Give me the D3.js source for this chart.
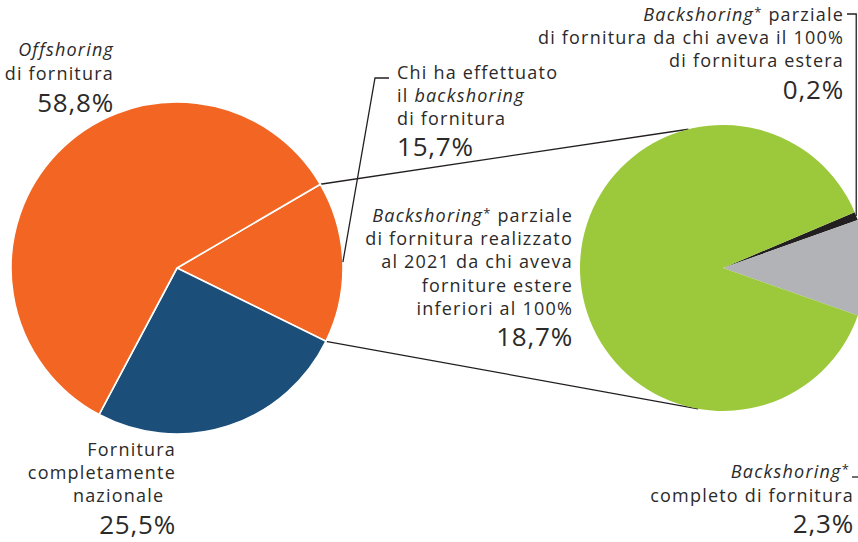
<!DOCTYPE html>
<html>
<head>
<meta charset="utf-8">
<title>Backshoring</title>
<script src="https://cdn.jsdelivr.net/npm/d3@7"></script>
<style>
  body { margin: 0; background: #fff; }
  svg { display: block; }
  text { font-family: "Open Sans", sans-serif; fill: #2b2a29; font-size: 18px; letter-spacing: 1.2px; }
  .pct { font-size: 26px; letter-spacing: 0.8px; }
</style>
</head>
<body>
<script>
// pie principale
var mainKeys = ["backshoring", "nazionale", "offshoring"];
var mainValues = [15.7, 25.5, 58.8];
var mainColors = ["#f26522", "#1b4f7a", "#f26522"];
// pie di dettaglio (chi ha fatto backshoring)
var subKeys = ["parziale100", "completo", "parziale"];
var subValues = [0.2, 2.3, 18.7];
var subColors = ["#231f20", "#b1b3b6", "#9bc93b"];

var width = 858, height = 542;
var deg = Math.PI / 180;

var svg = d3.select("body").append("svg")
  .attr("width", width)
  .attr("height", height);

var main = {cx: 177, cy: 268, r: 166, start: 59.7 * deg};
var sub = {cx: 723, cy: 268, r: 143, start: 67 * deg};

function pt(c, a, r) {
  return [c.cx + r * Math.sin(a), c.cy - r * Math.cos(a)];
}

var mainArcs = d3.pie().sort(null)
  .startAngle(main.start).endAngle(main.start + 2 * Math.PI)(mainValues);
var subArcs = d3.pie().sort(null)
  .startAngle(sub.start).endAngle(sub.start + 2 * Math.PI)(subValues);

// linee di collegamento tra le due torte
var bs = mainArcs[0];
var links = [
  [pt(main, bs.startAngle, main.r), pt(sub, 346 * deg, sub.r)],
  [pt(main, bs.endAngle, main.r), pt(sub, 190 * deg, sub.r)]
];
svg.selectAll(".link").data(links).enter().append("line")
  .attr("class", "link")
  .attr("x1", function(d){ return d[0][0]; })
  .attr("y1", function(d){ return d[0][1]; })
  .attr("x2", function(d){ return d[1][0]; })
  .attr("y2", function(d){ return d[1][1]; })
  .attr("stroke", "#231f20")
  .attr("stroke-width", 1.3);

var arcMain = d3.arc().innerRadius(0).outerRadius(main.r);
svg.append("g")
  .attr("transform", "translate(" + main.cx + "," + main.cy + ")")
  .selectAll("path").data(mainArcs).enter().append("path")
  .attr("d", arcMain)
  .attr("fill", function(d, i){ return mainColors[i]; })
  .attr("stroke", "#fff")
  .attr("stroke-width", 1.6)
  .attr("stroke-linejoin", "round");

var arcSub = d3.arc().innerRadius(0).outerRadius(sub.r);
svg.append("g")
  .attr("transform", "translate(" + sub.cx + "," + sub.cy + ")")
  .selectAll("path").data(subArcs).enter().append("path")
  .attr("d", arcSub)
  .attr("fill", function(d, i){ return subColors[i]; });

// linee guida delle etichette
var line = d3.line();
var bsMid = (bs.startAngle + bs.endAngle) / 2;
var p0 = pt(main, bsMid, main.r);
svg.append("path")
  .attr("d", line([p0, [375, 78], [389, 78]]))
  .attr("fill", "none").attr("stroke", "#231f20").attr("stroke-width", 1.3);

var blk = subArcs[0];
var p1 = pt(sub, (blk.startAngle + blk.endAngle) / 2, sub.r);
svg.append("path")
  .attr("d", line([p1, [p1[0], 14], [847, 14]]))
  .attr("fill", "none").attr("stroke", "#231f20").attr("stroke-width", 1.3);

svg.append("line")
  .attr("x1", 852).attr("x2", 858).attr("y1", 477).attr("y2", 477)
  .attr("stroke", "#231f20").attr("stroke-width", 1.3);

// etichette su più righe
function block(x, anchor, rows) {
  var g = svg.append("g");
  rows.forEach(function(r) {
    var t = g.append("text")
      .attr("x", x).attr("y", r.y)
      .attr("text-anchor", anchor)
      .attr("class", r.cls || null);
    r.parts.forEach(function(p) {
      var s = t.append("tspan").text(p.t);
      if (p.it) s.attr("font-style", "italic");
      if (p.sup) s.attr("font-size", "13px").attr("baseline-shift", "30%");
    });
  });
}

block(114, "end", [
  {y: 56, parts: [{t: "Offshoring", it: true}]},
  {y: 80, parts: [{t: "di fornitura"}]},
  {y: 112, cls: "pct", parts: [{t: "58,8%"}]}
]);

block(397, "start", [
  {y: 79, parts: [{t: "Chi ha effettuato"}]},
  {y: 102, parts: [{t: "il "}, {t: "backshoring", it: true}]},
  {y: 125, parts: [{t: "di fornitura"}]},
  {y: 156, cls: "pct", parts: [{t: "15,7%"}]}
]);

block(573, "end", [
  {y: 222, parts: [{t: "Backshoring", it: true}, {t: "*", sup: true}, {t: " parziale"}]},
  {y: 245, parts: [{t: "di fornitura realizzato"}]},
  {y: 268, parts: [{t: "al 2021 da chi aveva"}]},
  {y: 292, parts: [{t: "forniture estere"}]},
  {y: 315, parts: [{t: "inferiori al 100%"}]},
  {y: 346, cls: "pct", parts: [{t: "18,7%"}]}
]);

block(844, "end", [
  {y: 21, parts: [{t: "Backshoring", it: true}, {t: "*", sup: true}, {t: " parziale"}]},
  {y: 44, parts: [{t: "di fornitura da chi aveva il 100%"}]},
  {y: 67, parts: [{t: "di fornitura estera"}]},
  {y: 99, cls: "pct", parts: [{t: "0,2%"}]}
]);

block(850, "end", [
  {y: 478, parts: [{t: "Backshoring", it: true}, {t: "*", sup: true}]}
]);
block(854, "end", [
  {y: 502, parts: [{t: "completo di fornitura"}]},
  {y: 533, cls: "pct", parts: [{t: "2,3%"}]}
]);

block(176, "end", [
  {y: 456, parts: [{t: "Fornitura"}]},
  {y: 479, parts: [{t: "completamente"}]},
  {y: 502, parts: [{t: "nazionale\u00a0\u00a0"}]},
  {y: 534, cls: "pct", parts: [{t: "25,5%"}]}
]);
</script>
</body>
</html>
